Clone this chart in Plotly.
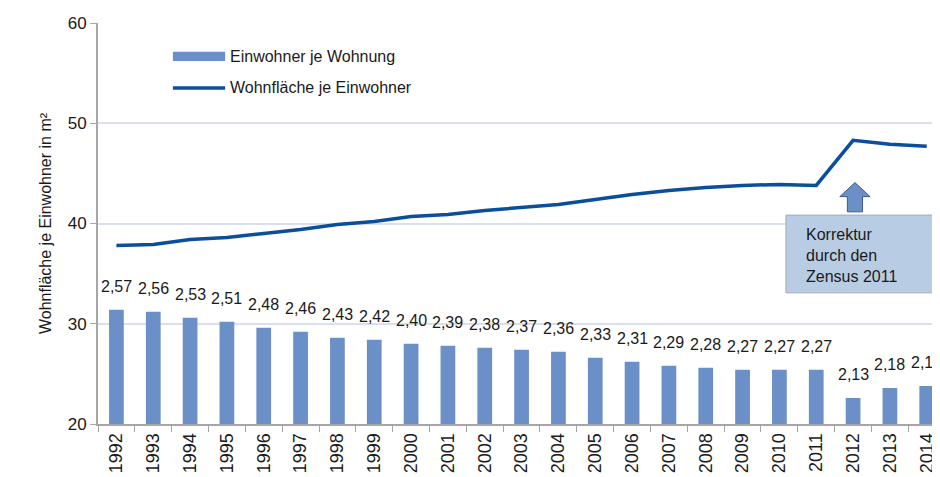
import plotly.graph_objects as go

# Daten
jahre = [str(j) for j in range(1992, 2015)]
einwohner_je_wohnung = [2.57, 2.56, 2.53, 2.51, 2.48, 2.46, 2.43, 2.42, 2.40, 2.39, 2.38, 2.37,
                        2.36, 2.33, 2.31, 2.29, 2.28, 2.27, 2.27, 2.27, 2.13, 2.18, 2.19]
wohnflaeche_je_einwohner = [37.8, 37.9, 38.4, 38.6, 39.0, 39.4, 39.9, 40.2, 40.7, 40.9, 41.3, 41.6,
                            41.9, 42.4, 42.9, 43.3, 43.6, 43.8, 43.9, 43.8, 48.3, 47.9, 47.7]
y_ticks = [20, 30, 40, 50, 60]

FONT = "Arial, Liberation Sans, sans-serif"
BAR_COLOR = "#6b8fc7"
LINE_COLOR = "#0b4f9c"
AXIS_COLOR = "#a6a6a6"
GRID_COLOR = "#dadfee"
TXT = "#1a1a1a"

fig = go.Figure()

# ── Balken: Einwohner je Wohnung (Sekundärachse ohne Beschriftung) ──
fig.add_trace(go.Bar(
    x=jahre, y=einwohner_je_wohnung, yaxis="y2",
    marker=dict(color=BAR_COLOR, line=dict(width=0)),
    width=0.4, name="Einwohner je Wohnung", showlegend=False,
))

# ── Linie: Wohnfläche je Einwohner ──
fig.add_trace(go.Scatter(
    x=jahre, y=wohnflaeche_je_einwohner, mode="lines",
    line=dict(color=LINE_COLOR, width=3.5),
    name="Wohnfläche je Einwohner", showlegend=False,
))

# ── Datenbeschriftungen über den Balken (Kategorie-Index als x) ──
for i, v in enumerate(einwohner_je_wohnung):
    fig.add_annotation(
        x=i, y=v, xref="x", yref="y2", yshift=23, yanchor="middle",
        text=f"{v:.2f}".replace(".", ","), showarrow=False,
        font=dict(family=FONT, size=16, color=TXT),
    )

# ── eigene Legende ──
fig.add_shape(type="rect", xref="paper", yref="paper",
              x0=0.089, x1=0.151, y0=0.905, y1=0.928,
              fillcolor=BAR_COLOR, line=dict(width=0))
fig.add_shape(type="line", xref="paper", yref="paper",
              x0=0.089, x1=0.151, y0=0.838, y1=0.838,
              line=dict(color=LINE_COLOR, width=3.5))
fig.add_annotation(xref="paper", yref="paper", x=0.154, y=0.917,
                   xanchor="left", yanchor="middle",
                   text="Einwohner je Wohnung", showarrow=False,
                   font=dict(family=FONT, size=16, color=TXT))
fig.add_annotation(xref="paper", yref="paper", x=0.154, y=0.838,
                   xanchor="left", yanchor="middle",
                   text="Wohnfläche je Einwohner", showarrow=False,
                   font=dict(family=FONT, size=16, color=TXT))

# ── Hinweis Zensus 2011 ──
fig.add_shape(type="rect", xref="paper", yref="paper",
              x0=0.817, x1=0.993, y0=0.327, y1=0.521,
              fillcolor="#b8cce4", line=dict(color="#a3abb8", width=1))
fig.add_annotation(xref="paper", yref="paper", x=0.838, y=0.420,
                   xanchor="left", yanchor="middle",
                   align="left", text="Korrektur<br>durch den<br>Zensus 2011",
                   showarrow=False, font=dict(family=FONT, size=16, color=TXT))
fig.add_shape(type="path", xref="paper", yref="paper",
              path="M 0.890 0.529 L 0.890 0.567 L 0.881 0.567 L 0.899 0.602 "
                   "L 0.917 0.567 L 0.908 0.567 L 0.908 0.529 Z",
              fillcolor=BAR_COLOR, line=dict(color="#3d5b86", width=1))

# Seite hat 8px Body-Rand -> Figur entsprechend kleiner
fig.update_layout(
    width=932, height=469,
    margin=dict(l=90, r=0, t=15, b=53),
    paper_bgcolor="white", plot_bgcolor="white",
    font=dict(family=FONT, color=TXT),
    xaxis=dict(
        type="category", range=[-0.5, 22.36],
        tickangle=-90, tickfont=dict(size=18),
        ticks="outside", tickson="boundaries", ticklen=6, tickcolor=AXIS_COLOR,
        showline=True, linecolor=AXIS_COLOR, linewidth=2,
        showgrid=False, automargin=False,
    ),
    yaxis=dict(
        range=[20, 60], tickvals=y_ticks, tickfont=dict(size=17),
        ticks="outside", ticklen=6, tickcolor=AXIS_COLOR,
        showline=True, linecolor=AXIS_COLOR, linewidth=2,
        showgrid=True, gridcolor=GRID_COLOR, gridwidth=2, zeroline=False,
        title=dict(text="Wohnfläche je Einwohner in m²", font=dict(size=16), standoff=12),
        automargin=False,
    ),
    yaxis2=dict(range=[2, 4], overlaying="y", side="right",
                showticklabels=False, showgrid=False, showline=False,
                ticks="", zeroline=False, automargin=False),
)

fig.write_html("out.html")
